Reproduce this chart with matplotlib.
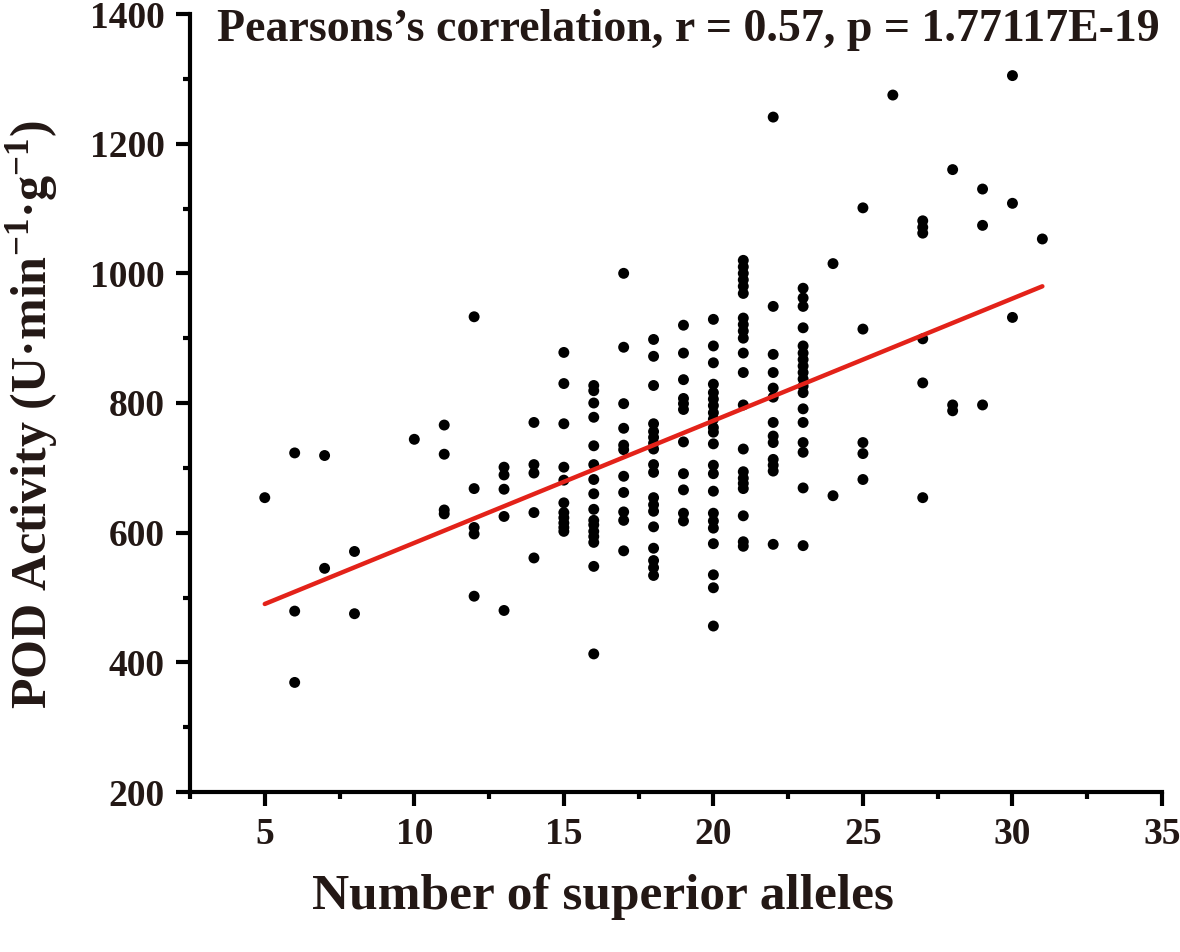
import matplotlib.pyplot as plt
import numpy as np

pod_5 = [654]
pod_6 = [723, 479, 369]
pod_7 = [719, 545]
pod_8 = [571, 475]
pod_10 = [744]
pod_11 = [766, 721, 635, 629]
pod_12 = [933, 668, 608, 598, 502]
pod_13 = [701, 689, 667, 625, 480]
pod_14 = [770, 705, 692, 631, 561]
pod_15 = [878, 830, 768, 701, 681, 646, 631, 623, 615, 608, 602]
pod_16 = [827, 819, 800, 778, 734, 705, 682, 660, 636, 619, 612, 602, 594, 585, 548, 413]
pod_17 = [1000, 886, 799, 761, 735, 728, 687, 662, 632, 619, 572]
pod_18 = [898, 872, 827, 768, 756, 747, 738, 729, 705, 693, 654, 643, 633, 609, 576, 557, 546, 534]
pod_19 = [920, 877, 836, 807, 799, 790, 740, 691, 666, 630, 618]
pod_20 = [929, 888, 862, 829, 816, 806, 796, 785, 775, 762, 755, 737, 704, 691, 664, 630, 618, 607,
          583, 535, 515, 456]
pod_21 = [1020, 1010, 1000, 990, 980, 969, 931, 921, 911, 900, 877, 847, 797, 729, 694, 684, 676,
          668, 626, 586, 579]
pod_22 = [1241, 949, 875, 847, 823, 809, 770, 749, 739, 713, 704, 695, 582]
pod_23 = [977, 962, 949, 916, 888, 877, 867, 857, 847, 837, 826, 816, 791, 770, 739, 724, 669, 580]
pod_24 = [1015, 657]
pod_25 = [1101, 914, 739, 722, 682]
pod_26 = [1275]
pod_27 = [1081, 1071, 1062, 899, 831, 654]
pod_28 = [1160, 797, 788]
pod_29 = [1130, 1074, 797]
pod_30 = [1305, 1108, 932]
pod_31 = [1053]

columns = {5: pod_5, 6: pod_6, 7: pod_7, 8: pod_8, 10: pod_10, 11: pod_11, 12: pod_12,
           13: pod_13, 14: pod_14, 15: pod_15, 16: pod_16, 17: pod_17, 18: pod_18,
           19: pod_19, 20: pod_20, 21: pod_21, 22: pod_22, 23: pod_23, 24: pod_24,
           25: pod_25, 26: pod_26, 27: pod_27, 28: pod_28, 29: pod_29, 30: pod_30,
           31: pod_31}

# regression line end points
fit_x = [5, 31]
fit_y = [490, 980]

alleles = np.concatenate([[k] * len(v) for k, v in columns.items()])
pod = np.concatenate([v for v in columns.values()])

plt.rcParams['font.family'] = ['Liberation Serif', 'DejaVu Serif']
plt.rcParams['font.weight'] = 'bold'
plt.rcParams['axes.labelweight'] = 'bold'
plt.rcParams['mathtext.fontset'] = 'custom'
plt.rcParams['mathtext.rm'] = 'Liberation Serif:bold'
plt.rcParams['mathtext.default'] = 'rm'

txt = '#231815'

fig = plt.figure(figsize=(11.8, 9.52), dpi=100)
ax = fig.add_axes([190 / 1180, 1 - 792 / 952, (1162 - 190) / 1180, (792 - 14) / 952])

ax.scatter(alleles, pod, s=62, color='black', edgecolors='none', zorder=3)
ax.plot(fit_x, fit_y, color='#e32219', lw=3.2, solid_capstyle='round', zorder=4)

ax.set_xlim(2.5, 35)
ax.set_ylim(200, 1400)
ax.set_xticks(np.arange(5, 36, 5))
ax.set_xticks(np.arange(2.5, 35, 5), minor=True)
ax.set_yticks(np.arange(200, 1401, 200))
ax.set_yticks(np.arange(300, 1400, 200), minor=True)

for side in ['top', 'right']:
    ax.spines[side].set_visible(False)
for side in ['left', 'bottom']:
    ax.spines[side].set_linewidth(3)
    ax.spines[side].set_color('black')

ax.tick_params(which='major', length=10, width=3, direction='out', labelsize=27,
               labelcolor=txt, pad=8)
ax.tick_params(which='minor', length=5, width=3, direction='out')

ax.set_xlabel('Number of superior alleles', fontsize=37, color=txt, va='center')
ax.xaxis.set_label_coords((603 - 190) / 972, (792 - 897) / 778)
ax.set_ylabel('POD Activity (U·min$^{-1}$·g$^{-1}$)', fontsize=36, color=txt, va='center')
ax.yaxis.set_label_coords((32 - 190) / 972, (792 - 415) / 778)

fig.text(688 / 1180, 1 - 41 / 952, 'Pearsons\u2019s correlation, r = 0.57, p = 1.77117E-19',
         fontsize=33, color=txt, ha='center', va='baseline')

fig.savefig('out.png', dpi=100)
